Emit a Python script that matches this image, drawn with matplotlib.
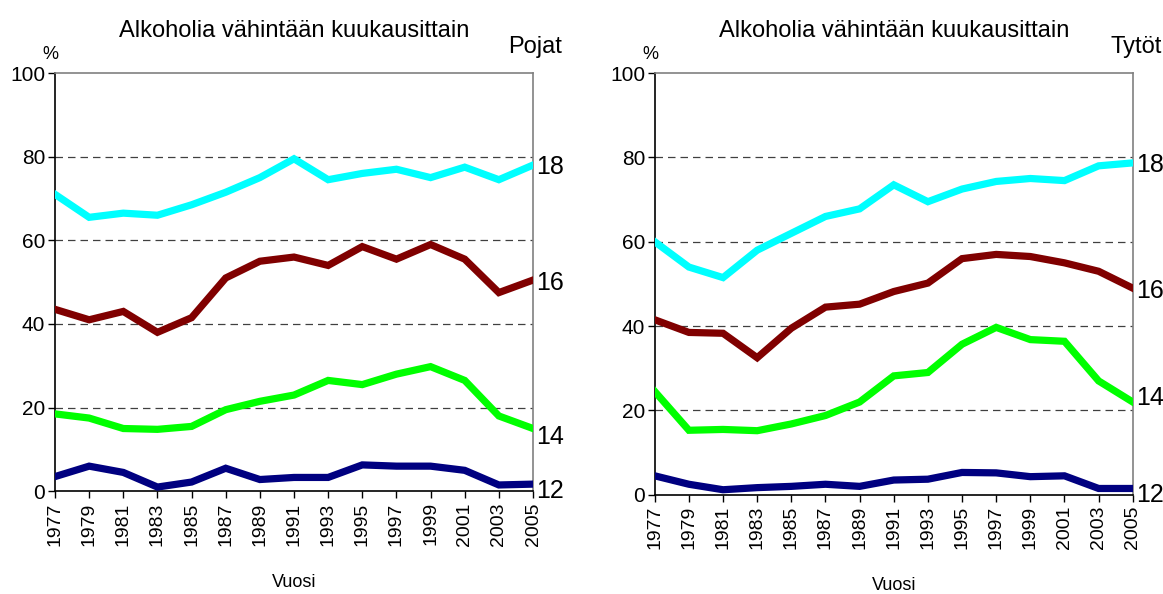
import numpy as np
import matplotlib
matplotlib.use('Agg')
import matplotlib.pyplot as plt

plt.rcParams['font.family'] = ['Liberation Sans', 'DejaVu Sans']

#%% data
years = [1977, 1979, 1981, 1983, 1985, 1987, 1989, 1991, 1993, 1995, 1997, 1999, 2001, 2003, 2005]
ages = ['18', '16', '14', '12']
colors = ['#00FFFF', '#800000', '#00FF00', '#000080']

# Pojat (boys)
boys_18 = [71, 65.5, 66.5, 66, 68.5, 71.5, 75, 79.5, 74.5, 76, 77, 75, 77.5, 74.5, 78]
boys_16 = [43.5, 41, 43, 38, 41.5, 51, 55, 56, 54, 58.5, 55.5, 59, 55.5, 47.5, 50.5]
boys_14 = [18.5, 17.5, 15, 14.8, 15.5, 19.5, 21.5, 23, 26.5, 25.5, 28, 29.8, 26.5, 18, 15]
boys_12 = [3.5, 6, 4.5, 1, 2.2, 5.5, 2.8, 3.3, 3.3, 6.3, 6, 6, 5, 1.5, 1.7]

# Tytot (girls)
girls_18 = [60, 54, 51.5, 58, 62, 66, 67.8, 73.5, 69.5, 72.5, 74.3, 75, 74.5, 78, 78.7]
girls_16 = [41.5, 38.5, 38.3, 32.5, 39.5, 44.5, 45.2, 48.2, 50.2, 56, 57, 56.5, 55, 53, 49]
girls_14 = [24.5, 15.3, 15.5, 15.2, 16.8, 18.8, 22, 28.2, 29, 35.7, 39.7, 36.8, 36.4, 27, 22]
girls_12 = [4.5, 2.5, 1.2, 1.7, 2, 2.5, 2, 3.5, 3.7, 5.3, 5.2, 4.3, 4.5, 1.5, 1.5]

panels = [('Pojat', [boys_18, boys_16, boys_14, boys_12], [77.5, 49.8, 12.9, 0]),
          ('Tytöt', [girls_18, girls_16, girls_14, girls_12], [78.2, 48.3, 23, 0])]

#%%
fig = plt.figure(figsize=(11.63, 5.94), dpi=100)
rects = [[0.0473, 0.173, 0.411, 0.704], [0.563, 0.167, 0.411, 0.710]]

for rect, (name, series, label_y) in zip(rects, panels):
    ax = fig.add_axes(rect)
    for vals, col in zip(series, colors):
        ax.plot(years, vals, color=col, lw=5.2, solid_joinstyle='miter', zorder=3)
    for lab, yy in zip(ages, label_y):
        ax.text(1.006, yy, lab, transform=ax.get_yaxis_transform(), fontsize=18,
                va='center', ha='left')

    ax.set_xlim(1977, 2005)
    ax.set_ylim(0, 100)
    ax.set_xticks(years)
    ax.set_xticklabels([str(y) for y in years], rotation=90, fontsize=14)
    ax.set_yticks([0, 20, 40, 60, 80, 100])
    ax.set_yticklabels(['0', '20', '40', '60', '80', '100'], fontsize=15)
    ax.tick_params(axis='both', direction='out', length=5, width=1, pad=2)
    ax.tick_params(axis='x', pad=3)
    for g in [20, 40, 60, 80]:
        ax.axhline(g, color='#404040', lw=0.9, ls=(0, (6, 4)), zorder=1)

    ax.spines['left'].set_color('black')
    ax.spines['bottom'].set_color('black')
    ax.spines['top'].set_color('#808080')
    ax.spines['right'].set_color('#808080')
    for s in ax.spines.values():
        s.set_linewidth(1.2)

    ax.set_xlabel('Vuosi', fontsize=13, labelpad=20)
    ax.set_title('Alkoholia vähintään kuukausittain', fontsize=17, pad=26)
    ax.text(-0.01, 1.025, '%', transform=ax.transAxes, fontsize=13, ha='center', va='bottom')
    ax.text(1.06, 1.035, name, transform=ax.transAxes, fontsize=17, ha='right', va='bottom')

fig.savefig('out.png', dpi=100)
